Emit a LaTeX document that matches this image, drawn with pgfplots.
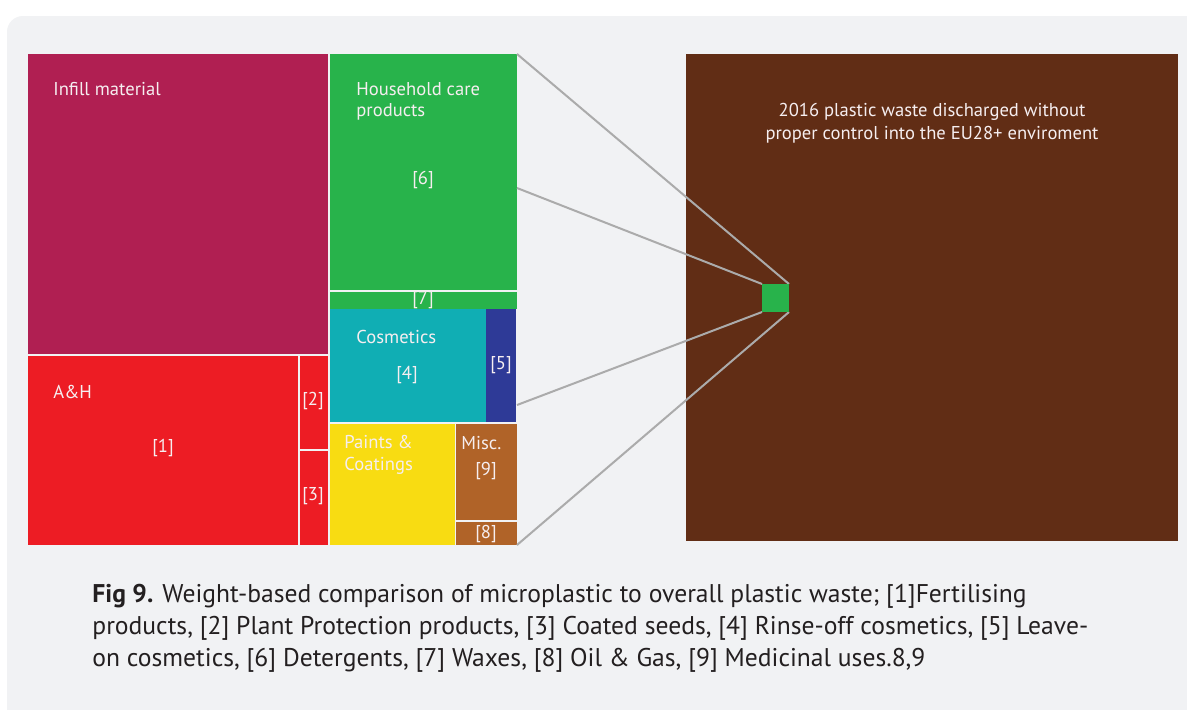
\documentclass[border=0pt]{standalone}
\usepackage{fontspec}
\setmainfont{PT Sans}
\usepackage{pgfplots}
\pgfplotsset{compat=1.18}
\definecolor{bg}{HTML}{F1F2F4}
\definecolor{infill}{HTML}{B01F52}
\definecolor{ahred}{HTML}{ED1C24}
\definecolor{hgreen}{HTML}{28B34B}
\definecolor{teal}{HTML}{10AEB4}
\definecolor{cblue}{HTML}{2E3A97}
\definecolor{yel}{HTML}{F8DC12}
\definecolor{misc}{HTML}{B06328}
\definecolor{bigbrown}{HTML}{612D15}
\definecolor{lgray}{HTML}{ABABAB}
\definecolor{captxt}{HTML}{231F20}
\definecolor{lbl}{HTML}{F6EEF0}
\begin{document}
\begin{tikzpicture}
\begin{axis}[
  at={(0,0)}, anchor=south west,
  width=593.5pt, height=354.5pt, scale only axis,
  xmin=0, xmax=1187, ymin=0, ymax=709, y dir=reverse,
  hide axis, clip=true,
]
\fill[white] (axis cs:0,0) rectangle (axis cs:1187,709);
\fill[bg, rounded corners=8pt] (axis cs:7,16) rectangle (axis cs:1210,730);
% treemap rectangles
\addplot[draw=none, fill=infill] coordinates {(28,54) (328,54) (328,354) (28,354)};
\addplot[draw=none, fill=ahred] coordinates {(28,356) (298,356) (298,545) (28,545)};
\addplot[draw=none, fill=ahred] coordinates {(300,356) (328,356) (328,449) (300,449)};
\addplot[draw=none, fill=ahred] coordinates {(300,451) (328,451) (328,545) (300,545)};
\addplot[draw=none, fill=hgreen] coordinates {(330,54) (517,54) (517,290) (330,290)};
\addplot[draw=none, fill=hgreen] coordinates {(330,292) (517,292) (517,309) (330,309)};
\addplot[draw=none, fill=teal] coordinates {(330,309) (486,309) (486,422) (330,422)};
\addplot[draw=none, fill=cblue] coordinates {(486,309) (516,309) (516,422) (486,422)};
\addplot[draw=none, fill=yel] coordinates {(330,424) (455,424) (455,545) (330,545)};
\addplot[draw=none, fill=misc] coordinates {(456,424) (517,424) (517,520) (456,520)};
\addplot[draw=none, fill=misc] coordinates {(456,522) (517,522) (517,545) (456,545)};
% overall waste
\addplot[draw=none, fill=bigbrown] coordinates {(686,54) (1178,54) (1178,541) (686,541)};
% connector lines
\addplot[lgray, line width=1pt] coordinates {(517,54) (789,284)};
\addplot[lgray, line width=1pt] coordinates {(517,188) (762,284)};
\addplot[lgray, line width=1pt] coordinates {(517,405) (762,312)};
\addplot[lgray, line width=1pt] coordinates {(517,545) (789,312)};
\addplot[draw=none, fill=hgreen] coordinates {(762,284) (789,284) (789,312) (762,312)};
% labels
\begin{scope}[every node/.style={text=lbl, font=\fontsize{9.3pt}{11.5pt}\selectfont, inner sep=0pt}]
\node[anchor=west] at (axis cs:53,89) {Infill material};
\node[anchor=west] at (axis cs:356,89) {Household care};
\node[anchor=west] at (axis cs:356,112) {products};
\node at (axis cs:423,180) {[6]};
\node at (axis cs:423,300) {[7]};
\node[anchor=west] at (axis cs:356,337) {Cosmetics};
\node at (axis cs:407,375) {[4]};
\node at (axis cs:501,365) {[5]};
\node[anchor=west] at (axis cs:53,392) {A\&H};
\node at (axis cs:163,448) {[1]};
\node at (axis cs:313,401) {[2]};
\node at (axis cs:313,496) {[3]};
\node[anchor=west] at (axis cs:344,442) {Paints \&};
\node[anchor=west] at (axis cs:344,466) {Coatings};
\node[anchor=west] at (axis cs:461,443) {Misc.};
\node at (axis cs:486,471) {[9]};
\node at (axis cs:486,534) {[8]};
\node at (axis cs:932,112) {2016 plastic waste discharged without};
\node at (axis cs:932,135) {proper control into the EU28+ enviroment};
\end{scope}
% caption
\begin{scope}[every node/.style={text=captxt, font=\fontsize{12.8pt}{16pt}\selectfont, inner sep=0pt, anchor=base west}]
\node at (axis cs:92,602) {\textbf{Fig 9.} Weight-based comparison of microplastic to overall plastic waste; [1]Fertilising};
\node at (axis cs:92,634) {products, [2] Plant Protection products, [3] Coated seeds, [4] Rinse-off cosmetics, [5] Leave-};
\node at (axis cs:92,666) {on cosmetics, [6] Detergents, [7] Waxes, [8] Oil \& Gas, [9] Medicinal uses.8,9};
\end{scope}
\end{axis}
\end{tikzpicture}
\end{document}
